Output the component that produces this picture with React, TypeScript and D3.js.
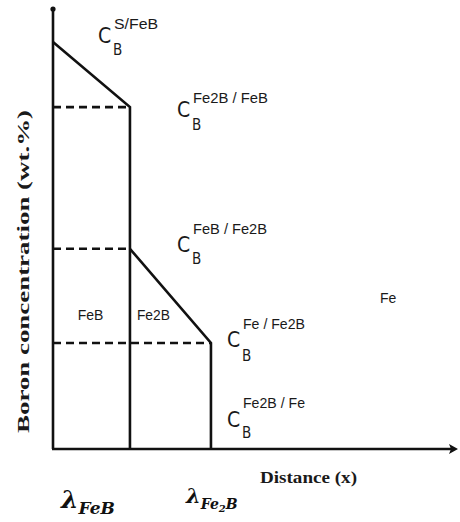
import React from "react";
import * as d3 from "d3";

// Interface positions (distance, arbitrary units 0-100)
const interfaceNames = ["FeB", "Fe2B"];
const interfaceX = [19, 39];
// Boron concentration at the interfaces (arbitrary units 0-100)
const concLabels = ["S/FeB", "Fe2B / FeB", "FeB / Fe2B", "Fe / Fe2B"];
const concValues = [92.5, 77.7, 45.5, 24.1];

const W = 460;
const H = 522;

const x = d3.scaleLinear().domain([0, 100]).range([53, 458]);
const y = d3.scaleLinear().domain([0, 100]).range([449, 9]);

const sansNarrow = "'Liberation Sans Narrow', 'DejaVu Sans Condensed', 'Liberation Sans', sans-serif";
const sans = "'Liberation Sans', Arial, sans-serif";
const serif = "'Liberation Serif', 'Times New Roman', serif";

function CLabel({ cx, cy, sup, supW, supDy, subDy }: { cx: number; cy: number; sup: string; supW: number; supDy: number; subDy: number }) {
  return (
    <g fill="#1a1a1a">
      <text x={cx} y={cy} fontFamily={sansNarrow} fontSize={21}>C</text>
      <text x={cx + 16} y={cy + supDy} fontFamily={sans} fontSize={14.5} textLength={supW} lengthAdjust="spacingAndGlyphs">{sup}</text>
      <text x={cx + 15} y={cy + subDy} fontFamily={sansNarrow} fontSize={15}>B</text>
    </g>
  );
}

export default function App() {
  const line = d3.line<[number, number]>().x((d) => x(d[0])).y((d) => y(d[1]));
  const [xFeB, xFe2B] = interfaceX;
  const [c0, c1, c2, c3] = concValues;

  const solid: [number, number][][] = [
    [[0, c0], [xFeB, c1], [xFeB, 0]],
    [[xFeB, c2], [xFe2B, c3], [xFe2B, 0]],
  ];
  const dashed: [number, number][][] = [
    [[0, c1], [xFeB, c1]],
    [[0, c2], [xFeB, c2]],
    [[0, c3], [xFe2B, c3]],
  ];

  const labelPos = [
    { cx: 98, cy: 43, supW: 44, supDy: -14, subDy: 12 },
    { cx: 177, cy: 117, supW: 75, supDy: -14, subDy: 13 },
    { cx: 177, cy: 252, supW: 74, supDy: -18, subDy: 12 },
    { cx: 227, cy: 347, supW: 62, supDy: -18, subDy: 14 },
  ];

  return (
    <svg width={W} height={H} style={{ position: "absolute", left: 0, top: 0, background: "#fff" }}>
      {/* axes */}
      <line x1={x(0)} y1={y(0)} x2={x(0)} y2={y(100)} stroke="#111" strokeWidth={2.6} />
      <circle cx={x(0)} cy={y(100)} r={2.6} fill="#111" />
      <line x1={x(0) - 1} y1={y(0)} x2={x(100) - 4} y2={y(0)} stroke="#111" strokeWidth={2.6} />
      <path d={`M${x(100)},${y(0)} l-9,-5 l2,5 l-2,5 z`} fill="#111" />

      {solid.map((pts, i) => (
        <path key={"s" + i} d={line(pts) || ""} fill="none" stroke="#111" strokeWidth={2.6} strokeLinejoin="miter" />
      ))}
      {dashed.map((pts, i) => (
        <path key={"d" + i} d={line(pts) || ""} fill="none" stroke="#111" strokeWidth={2.6} strokeDasharray="8,5" />
      ))}

      {concLabels.map((s, i) => (
        <CLabel key={s} sup={s} {...labelPos[i]} />
      ))}
      <CLabel cx={227} cy={427} sup="Fe2B / Fe" supW={62} supDy={-19} subDy={11} />

      {/* phase names */}
      <text x={(x(0) + x(xFeB)) / 2 - 1} y={320} fontFamily={sans} fontSize={14} fill="#1a1a1a" textAnchor="middle">{interfaceNames[0]}</text>
      <text x={x(xFeB) + 7} y={320} fontFamily={sans} fontSize={14} fill="#1a1a1a" textLength={33} lengthAdjust="spacingAndGlyphs">{interfaceNames[1]}</text>
      <text x={380} y={303} fontFamily={sans} fontSize={14} fill="#1a1a1a">Fe</text>

      {/* axis titles */}
      <text x={260} y={483} fontFamily={serif} fontWeight="bold" fontSize={16} fill="#1a1a1a" textLength={97} lengthAdjust="spacingAndGlyphs">Distance (x)</text>
      <text transform="translate(29,433) rotate(-90)" fontFamily={serif} fontWeight="bold" fontSize={16} fill="#1a1a1a" textLength={323} lengthAdjust="spacingAndGlyphs">Boron concentration (wt.%)</text>

      {/* lambda labels */}
      <text x={61} y={508} fontFamily="'DejaVu Serif', serif" fontWeight="bold" fontStyle="italic" fontSize={25} fill="#111">
        λ<tspan fontSize={17} dy={6}>FeB</tspan>
      </text>
      <text x={186} y={503} fontFamily="'DejaVu Serif', serif" fontWeight="bold" fontStyle="italic" fontSize={21} fill="#111">
        λ<tspan fontSize={14} dy={6}>Fe</tspan><tspan fontSize={10} dy={3}>2</tspan><tspan fontSize={14} dy={-3}>B</tspan>
      </text>
    </svg>
  );
}
